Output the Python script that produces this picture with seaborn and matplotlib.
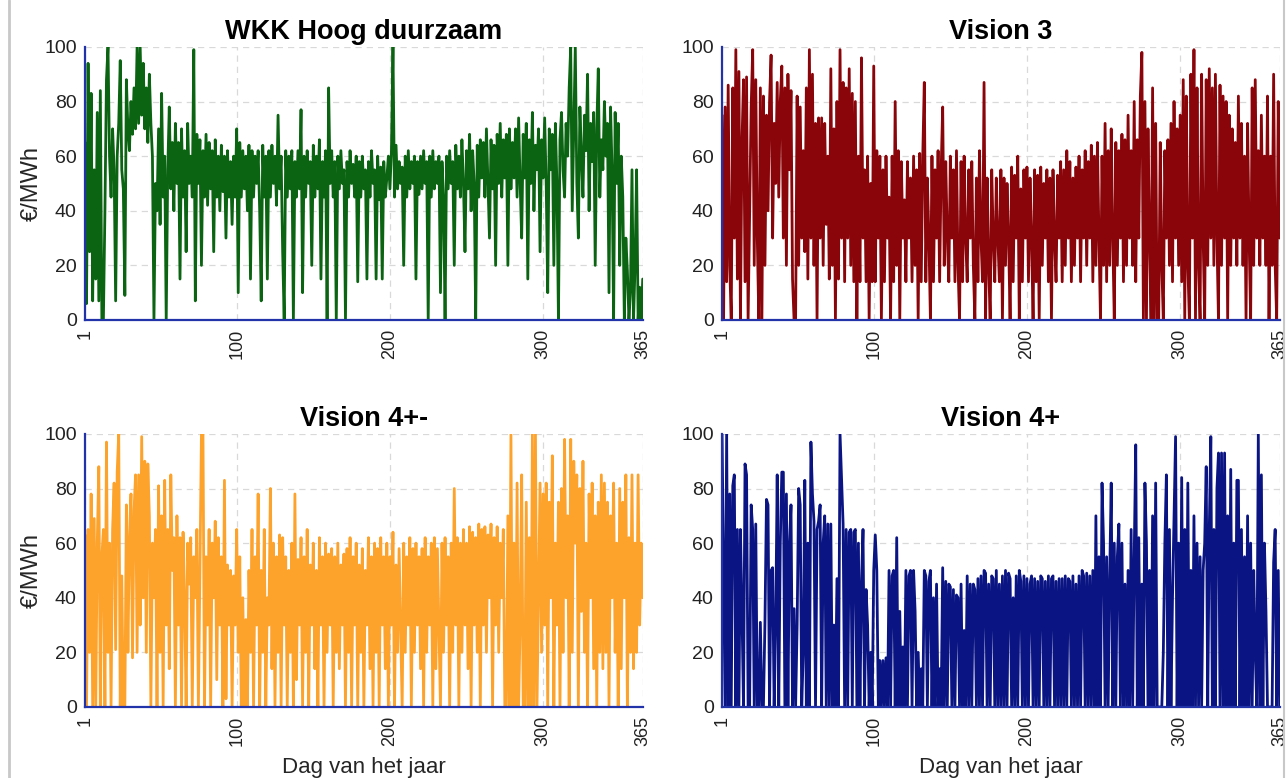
import numpy as np
import pandas as pd
import matplotlib
matplotlib.use("Agg")
import matplotlib.pyplot as plt
from matplotlib.lines import Line2D
import seaborn as sns

# daily prices (EUR/MWh), day 1 .. 365
wkk = [65, 6, 94, 25, 83, 7, 55, 15, 76, 7, 84, 0, 0, 40, 88, 100, 60, 45, 70, 55,
       7, 60, 72, 95, 55, 48, 9, 88, 70, 62, 80, 68, 85, 70, 100, 72, 100, 75, 94, 70,
       85, 65, 90, 72, 60, 0, 50, 40, 70, 35, 83, 45, 60, 0, 55, 78, 48, 65, 40, 72,
       50, 65, 15, 70, 45, 62, 25, 72, 50, 60, 45, 99, 7, 68, 50, 66, 20, 62, 45, 68,
       42, 65, 48, 62, 25, 66, 45, 60, 40, 64, 47, 60, 30, 62, 45, 58, 35, 60, 45, 70,
       10, 65, 45, 62, 48, 60, 40, 64, 15, 62, 45, 60, 50, 62, 40, 7, 64, 45, 60, 15,
       62, 45, 64, 50, 60, 42, 75, 48, 60, 25, 0, 62, 45, 60, 48, 62, 0, 58, 45, 62,
       48, 77, 10, 60, 45, 62, 50, 58, 20, 64, 45, 60, 48, 66, 15, 58, 45, 62, 0, 85,
       50, 62, 45, 58, 0, 60, 48, 62, 50, 55, 0, 58, 45, 62, 50, 57, 45, 60, 14, 58,
       45, 60, 48, 55, 15, 58, 45, 62, 50, 55, 15, 60, 44, 56, 15, 58, 45, 52, 60, 48,
       62, 100, 45, 64, 48, 58, 50, 56, 20, 60, 45, 62, 48, 58, 50, 60, 15, 58, 46, 60,
       48, 62, 50, 58, 0, 60, 45, 62, 48, 58, 50, 60, 10, 58, 45, 0, 60, 48, 62, 50,
       58, 20, 64, 48, 60, 45, 66, 50, 25, 62, 48, 68, 40, 62, 50, 0, 64, 45, 66, 52,
       65, 45, 70, 50, 30, 66, 48, 64, 20, 68, 50, 72, 45, 66, 52, 68, 20, 70, 48, 65,
       52, 70, 45, 74, 50, 30, 68, 52, 72, 15, 66, 50, 76, 40, 64, 55, 70, 25, 66, 52,
       74, 50, 10, 70, 55, 68, 20, 72, 50, 0, 66, 76, 55, 45, 72, 60, 85, 100, 40, 70,
       100, 50, 30, 78, 60, 45, 75, 62, 90, 40, 72, 58, 76, 20, 70, 92, 45, 66, 55, 80,
       60, 72, 10, 78, 55, 0, 76, 50, 72, 20, 60, 45, 0, 30, 18, 0, 10, 55, 0, 20,
       55, 0, 12, 0, 15]

vision3 = [75, 0, 78, 14, 86, 20, 0, 85, 30, 99, 15, 91, 0, 65, 88, 14, 89, 0, 40, 78,
           99, 20, 88, 30, 0, 85, 0, 82, 20, 75, 40, 80, 97, 30, 72, 50, 87, 45, 80, 93,
           30, 85, 20, 90, 55, 84, 15, 0, 0, 82, 20, 78, 30, 62, 25, 85, 15, 99, 30, 90,
           20, 72, 0, 74, 30, 74, 20, 72, 35, 60, 15, 92, 20, 70, 0, 80, 15, 99, 30, 87,
           14, 85, 30, 92, 20, 83, 14, 80, 0, 60, 14, 96, 30, 55, 14, 60, 0, 50, 14, 93,
           14, 62, 30, 60, 0, 55, 14, 60, 30, 45, 0, 60, 14, 80, 20, 62, 0, 58, 30, 44,
           14, 58, 30, 52, 14, 60, 20, 55, 0, 61, 14, 60, 87, 14, 52, 30, 0, 60, 14, 55,
           30, 62, 14, 55, 78, 20, 58, 30, 14, 60, 30, 55, 14, 62, 20, 0, 58, 14, 60, 30,
           14, 55, 30, 58, 20, 0, 52, 14, 62, 30, 14, 87, 0, 52, 20, 0, 55, 30, 14, 52,
           30, 14, 55, 0, 52, 20, 50, 30, 0, 56, 14, 53, 30, 60, 0, 48, 14, 55, 30, 56,
           14, 52, 30, 0, 55, 14, 53, 0, 56, 20, 50, 30, 55, 14, 52, 0, 55, 30, 14, 53,
           30, 58, 14, 55, 20, 62, 30, 58, 14, 52, 20, 56, 30, 60, 14, 55, 30, 62, 20, 58,
           30, 64, 14, 60, 20, 65, 30, 0, 60, 20, 72, 14, 62, 20, 70, 30, 0, 65, 20, 62,
           30, 68, 14, 66, 20, 75, 30, 62, 20, 80, 14, 66, 30, 82, 98, 0, 80, 0, 70, 30,
           0, 85, 0, 72, 0, 0, 65, 20, 0, 62, 30, 66, 20, 72, 14, 80, 30, 70, 20, 75,
           14, 88, 0, 82, 20, 0, 90, 30, 99, 0, 85, 20, 0, 90, 30, 0, 88, 20, 92, 30,
           85, 20, 90, 30, 0, 86, 20, 82, 30, 80, 0, 75, 20, 70, 30, 65, 20, 82, 30, 72,
           20, 60, 0, 72, 30, 0, 85, 20, 88, 30, 62, 20, 75, 30, 60, 20, 82, 0, 60, 20,
           90, 20, 0, 80, 30]

vision4pm = [63, 0, 65, 20, 78, 0, 69, 0, 60, 88, 0, 55, 65, 0, 97, 20, 60, 0, 65, 82,
             21, 86, 100, 0, 48, 0, 0, 74, 20, 62, 78, 18, 72, 85, 20, 85, 30, 99, 40, 90,
             20, 89, 70, 0, 60, 40, 65, 0, 81, 20, 70, 0, 83, 30, 65, 14, 85, 50, 62, 0,
             70, 30, 62, 0, 64, 40, 0, 60, 45, 62, 0, 55, 40, 65, 0, 50, 100, 100, 0, 55,
             30, 65, 0, 60, 40, 68, 10, 62, 30, 55, 0, 83, 3, 52, 30, 50, 0, 48, 30, 65,
             20, 55, 0, 40, 0, 32, 0, 50, 20, 65, 0, 55, 30, 78, 0, 50, 20, 65, 0, 40,
             30, 80, 14, 60, 0, 55, 20, 63, 0, 62, 30, 55, 0, 50, 20, 60, 0, 78, 10, 54,
             30, 62, 0, 55, 20, 65, 0, 52, 30, 60, 14, 50, 0, 62, 30, 55, 0, 60, 20, 56,
             30, 58, 0, 55, 20, 60, 14, 52, 30, 56, 0, 58, 20, 62, 0, 55, 30, 60, 0, 52,
             20, 58, 0, 50, 30, 62, 14, 55, 0, 60, 20, 58, 0, 62, 30, 55, 14, 60, 0, 55,
             30, 64, 0, 52, 20, 58, 30, 0, 60, 20, 55, 30, 62, 0, 58, 20, 60, 30, 55, 14,
             58, 0, 62, 20, 55, 30, 60, 0, 62, 14, 58, 30, 0, 60, 20, 62, 30, 55, 0, 60,
             20, 80, 30, 62, 0, 60, 20, 65, 30, 60, 14, 66, 0, 64, 30, 62, 20, 67, 0, 65,
             30, 66, 20, 63, 40, 67, 0, 62, 30, 66, 20, 60, 40, 65, 0, 0, 70, 0, 100, 0,
             60, 0, 82, 0, 30, 85, 0, 0, 75, 0, 62, 0, 100, 0, 100, 0, 40, 82, 20, 78,
             30, 82, 0, 75, 40, 92, 0, 60, 30, 75, 0, 80, 20, 98, 40, 70, 0, 98, 20, 90,
             60, 85, 0, 80, 35, 90, 20, 60, 0, 78, 40, 82, 14, 70, 0, 75, 20, 85, 14, 82,
             20, 75, 0, 70, 40, 82, 20, 60, 0, 80, 14, 75, 40, 85, 0, 62, 20, 85, 14, 60,
             20, 85, 30, 60, 40]

vision4p = [100, 50, 0, 100, 0, 78, 0, 81, 85, 0, 65, 0, 65, 35, 0, 89, 85, 0, 0, 74,
            65, 0, 67, 0, 0, 31, 0, 0, 31, 76, 74, 0, 50, 51, 0, 30, 85, 0, 60, 86,
            86, 0, 78, 0, 60, 74, 0, 36, 0, 30, 80, 74, 0, 20, 83, 0, 60, 0, 97, 78,
            68, 0, 65, 68, 74, 0, 60, 70, 0, 67, 0, 67, 0, 30, 0, 47, 0, 100, 83, 67,
            0, 65, 0, 64, 65, 0, 64, 65, 0, 60, 0, 45, 65, 0, 43, 30, 0, 20, 0, 50,
            63, 50, 0, 17, 0, 17, 0, 18, 0, 50, 0, 48, 50, 0, 62, 0, 35, 0, 22, 0,
            50, 0, 48, 50, 0, 50, 35, 0, 20, 0, 14, 0, 50, 48, 0, 46, 50, 0, 40, 0,
            45, 0, 14, 0, 51, 0, 46, 0, 45, 44, 0, 43, 0, 41, 40, 0, 45, 0, 28, 0,
            48, 0, 45, 0, 45, 43, 0, 47, 0, 48, 0, 50, 49, 0, 45, 0, 48, 47, 0, 50,
            0, 45, 0, 48, 0, 50, 0, 49, 47, 0, 40, 0, 48, 0, 50, 46, 0, 48, 0, 47,
            0, 45, 48, 0, 47, 0, 46, 0, 48, 47, 0, 46, 0, 48, 0, 47, 48, 0, 46, 0,
            47, 0, 47, 0, 48, 0, 47, 46, 0, 48, 0, 45, 0, 48, 0, 50, 48, 0, 49, 0,
            48, 0, 50, 0, 70, 0, 55, 0, 82, 60, 0, 55, 0, 48, 82, 0, 60, 0, 55, 67,
            0, 60, 0, 45, 0, 50, 0, 65, 0, 55, 96, 0, 62, 0, 45, 0, 82, 60, 0, 50,
            0, 70, 0, 82, 0, 0, 0, 0, 20, 60, 85, 0, 65, 0, 40, 70, 99, 0, 60, 0,
            84, 0, 65, 0, 82, 0, 50, 0, 70, 0, 60, 0, 55, 0, 50, 60, 88, 0, 65, 99,
            0, 65, 0, 80, 93, 0, 93, 0, 93, 0, 70, 0, 87, 0, 60, 0, 83, 83, 0, 65,
            0, 55, 0, 70, 0, 60, 0, 50, 20, 0, 100, 0, 85, 0, 60, 35, 0, 0, 0, 0,
            53, 65, 0, 50, 0]

titles = ["WKK Hoog duurzaam", "Vision 3", "Vision 4+-", "Vision 4+"]
series = [wkk, vision3, vision4pm, vision4p]
colors = ["#0b6412", "#8a050a", "#fda32c", "#0a1482"]
xticks = [1, 100, 200, 300, 365]
yticks = [0, 20, 40, 60, 80, 100]

sns.set_style("white")
plt.rcParams['font.family'] = ['Liberation Sans', 'DejaVu Sans']
plt.rcParams['text.color'] = '#111111'
plt.rcParams['xtick.color'] = '#222222'
plt.rcParams['ytick.color'] = '#222222'

fig = plt.figure(figsize=(12.88, 7.78), dpi=100)
boxes = [[0.066, 0.5887, 0.433, 0.351],
         [0.5606, 0.5887, 0.433, 0.351],
         [0.066, 0.0913, 0.433, 0.351],
         [0.5606, 0.0913, 0.433, 0.351]]

for i in range(4):
    ax = fig.add_axes(boxes[i])
    vals = series[i]
    df = pd.DataFrame({"dag": np.linspace(1, 365, len(vals)), "prijs": vals})
    sns.lineplot(data=df, x="dag", y="prijs", ax=ax, color=colors[i],
                 linewidth=2.0, estimator=None)
    ax.set_xlim(1, 365)
    ax.set_ylim(0, 100)
    ax.set_xticks(xticks)
    ax.set_yticks(yticks)
    ax.tick_params(axis='x', labelrotation=90, labelsize=13, length=3, color='#888888')
    ax.tick_params(axis='y', labelsize=14, length=3, color='#888888', pad=3)
    ax.grid(True, linestyle=(0, (5, 4)), color='#d9d9d9', linewidth=0.9)
    ax.set_axisbelow(True)
    for s in ['top', 'right']:
        ax.spines[s].set_visible(False)
    for s in ['left', 'bottom']:
        ax.spines[s].set_color('#2233aa')
        ax.spines[s].set_linewidth(1.6)
        ax.spines[s].set_zorder(5)
    ax.set_title(titles[i], fontsize=19.5, fontweight='bold', pad=6, color='black')
    ax.set_ylabel("€/MWh" if i % 2 == 0 else "", fontsize=17, labelpad=1)
    ax.set_xlabel("Dag van het jaar" if i >= 2 else "", fontsize=16, labelpad=8)

# screenshot borders
fig.add_artist(Line2D([0.007, 0.007], [0, 1], color='#c8c8c8', linewidth=2))
fig.add_artist(Line2D([0.997, 0.997], [0, 1], color='#c8c8c8', linewidth=1.5))

fig.savefig("out.png", dpi=100)
